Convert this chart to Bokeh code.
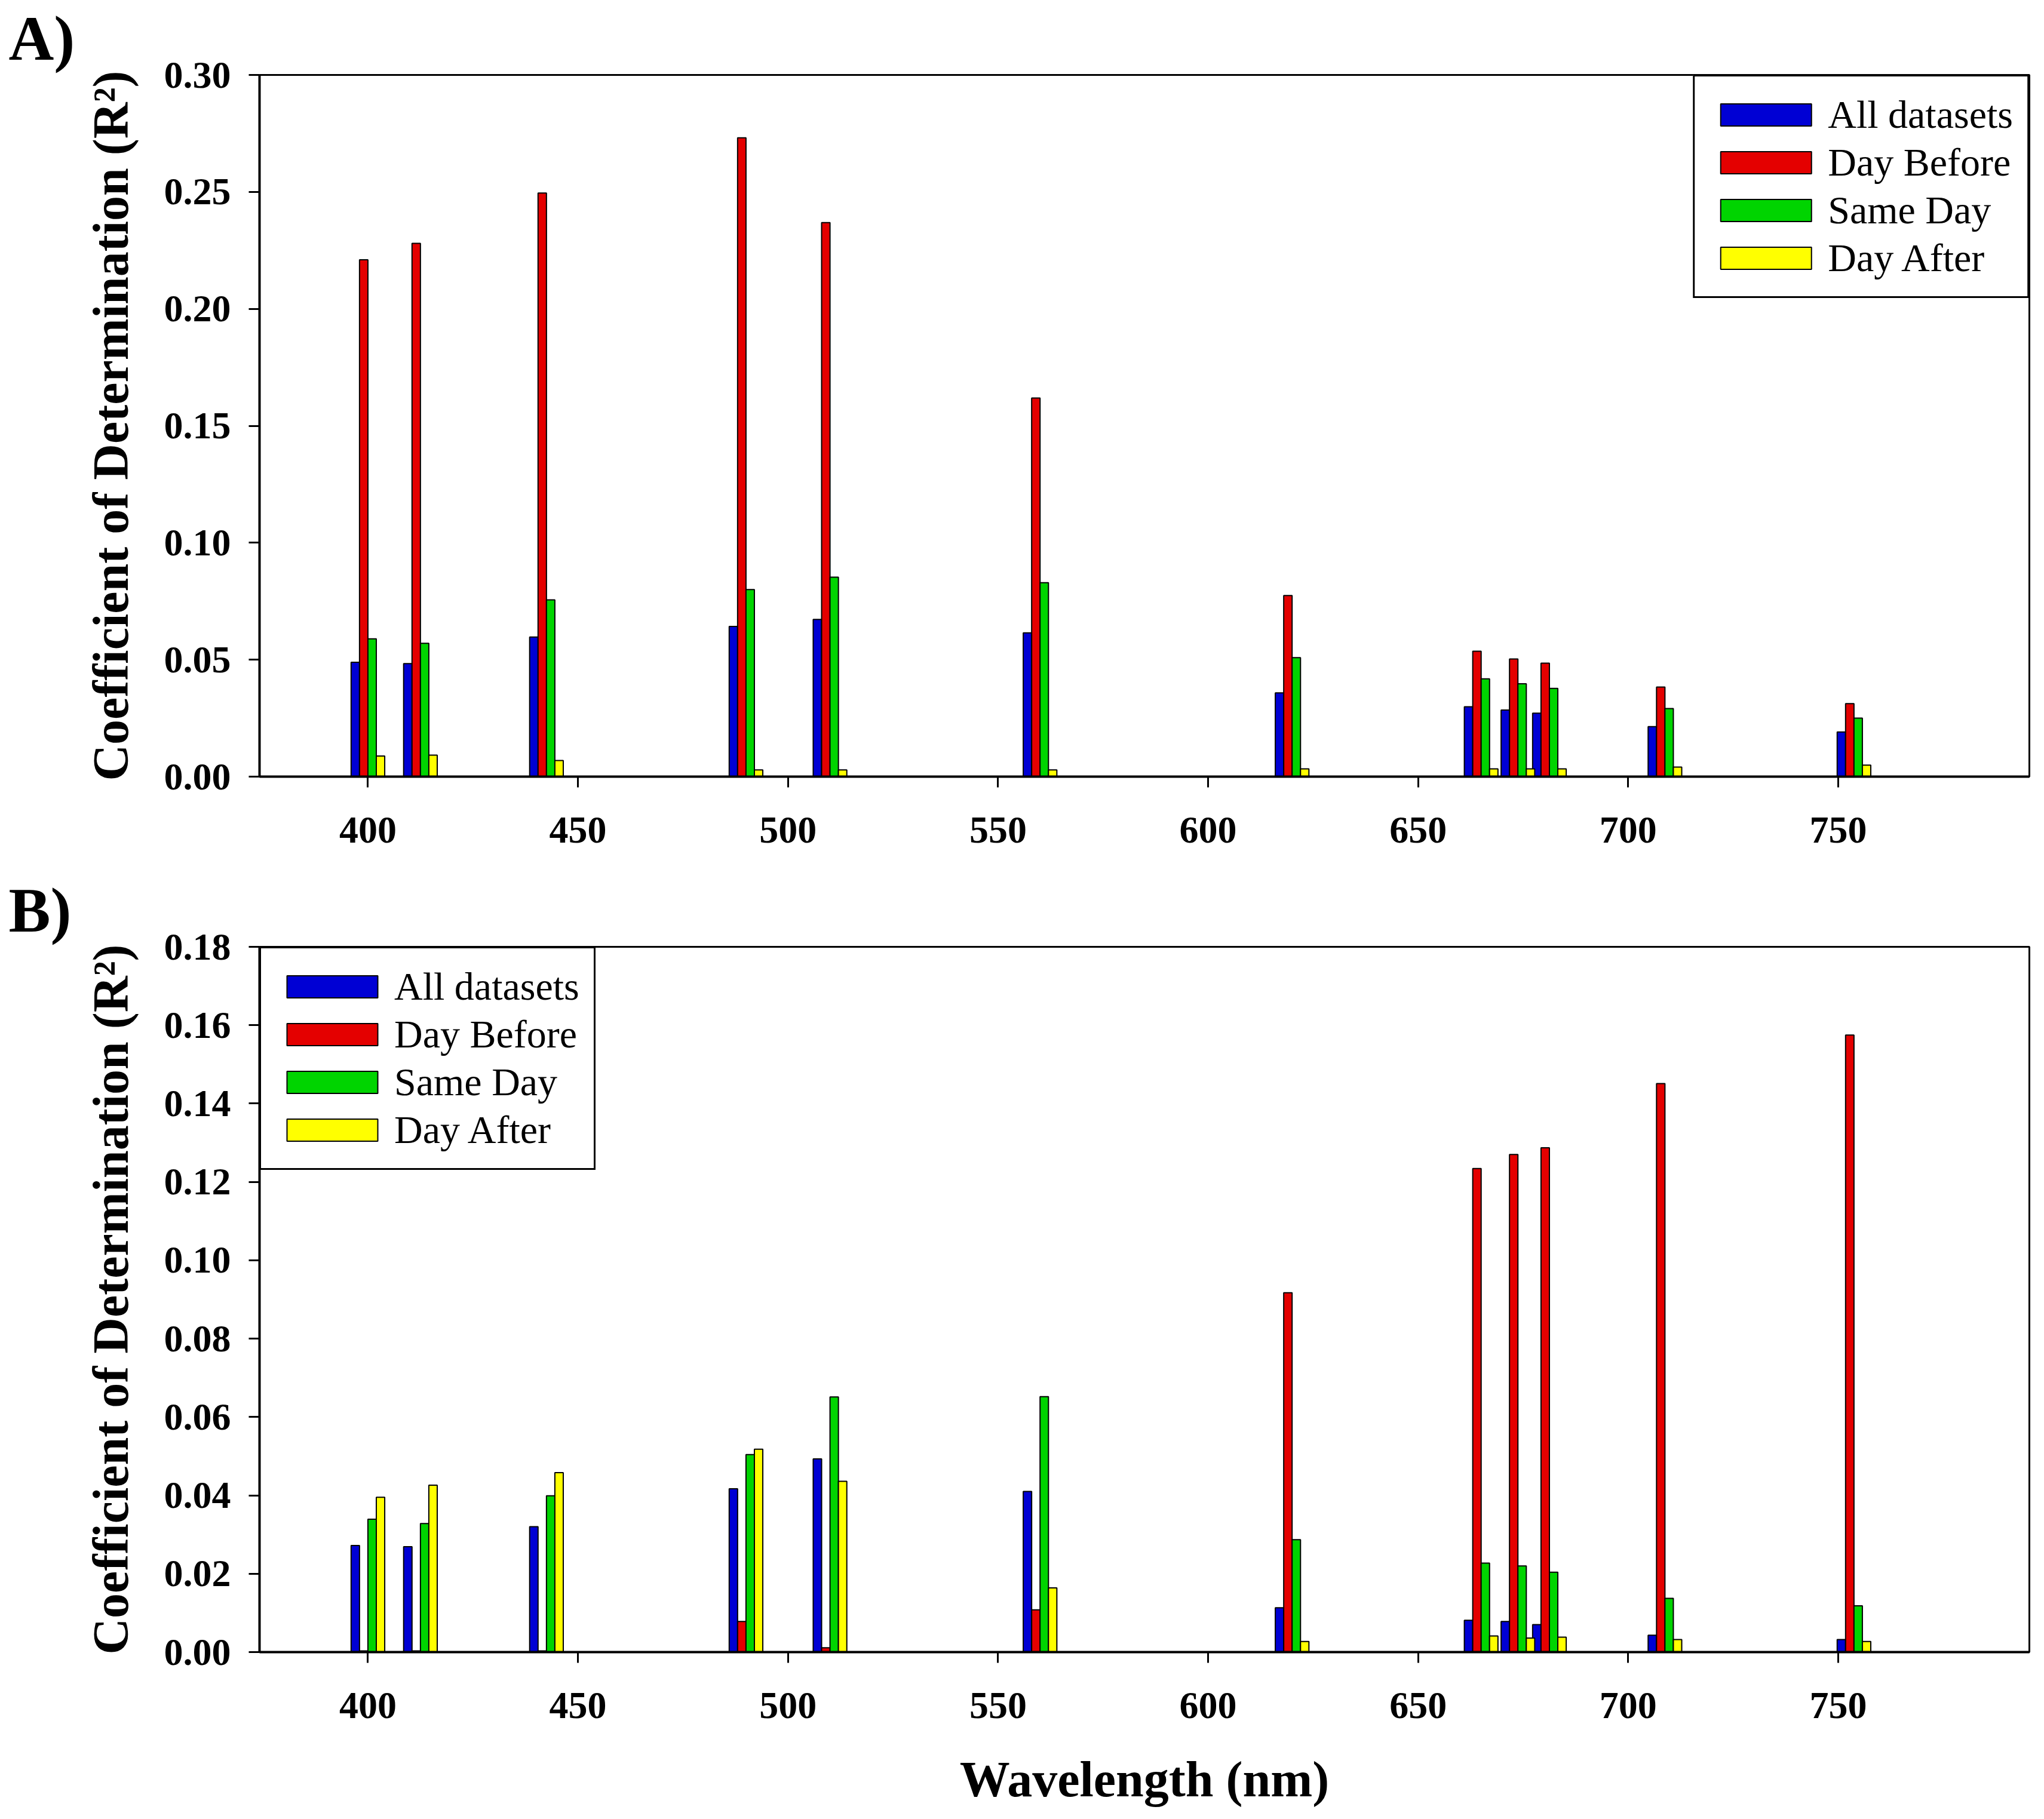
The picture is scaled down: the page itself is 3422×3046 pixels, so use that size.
from bokeh.plotting import figure
from bokeh.models import ColumnDataSource, Range1d, FixedTicker, PrintfTickFormatter, Title, Legend, LegendItem
from bokeh.layouts import column
from bokeh.transform import dodge
from bokeh.embed import file_html
from bokeh.resources import INLINE

# ---------------- data ----------------
wavelengths = [400, 412.5, 442.5, 490, 510, 560, 620, 665, 673.75, 681.25, 708.75, 753.75]
series_names = ["All datasets", "Day Before", "Same Day", "Day After"]

all_A = [0.0489, 0.0483, 0.0597, 0.0642, 0.0672, 0.0615, 0.0358, 0.0299, 0.0285, 0.0271, 0.0214, 0.0191]
before_A = [0.2210, 0.2280, 0.2495, 0.2731, 0.2369, 0.1619, 0.0774, 0.0536, 0.0503, 0.0485, 0.0383, 0.0312]
same_A = [0.0589, 0.0570, 0.0756, 0.0800, 0.0853, 0.0829, 0.0509, 0.0418, 0.0397, 0.0377, 0.0291, 0.0250]
after_A = [0.0088, 0.0092, 0.0069, 0.0029, 0.0029, 0.0029, 0.0033, 0.0033, 0.0033, 0.0033, 0.0041, 0.0049]

all_B = [0.0272, 0.0269, 0.0320, 0.0417, 0.0493, 0.0410, 0.0113, 0.0081, 0.0078, 0.0070, 0.0043, 0.0032]
before_B = [0.0003, 0.0003, 0.0003, 0.0078, 0.0011, 0.0108, 0.0917, 0.1234, 0.1270, 0.1287, 0.1451, 0.1575]
same_B = [0.0339, 0.0328, 0.0399, 0.0504, 0.0651, 0.0652, 0.0287, 0.0227, 0.0220, 0.0204, 0.0137, 0.0118]
after_B = [0.0395, 0.0426, 0.0458, 0.0518, 0.0436, 0.0164, 0.0027, 0.0041, 0.0036, 0.0038, 0.0032, 0.0027]

x_ticks = [400, 450, 500, 550, 600, 650, 700, 750]
y_ticks_A = [0.00, 0.05, 0.10, 0.15, 0.20, 0.25, 0.30]
y_ticks_B = [0.00, 0.02, 0.04, 0.06, 0.08, 0.10, 0.12, 0.14, 0.16, 0.18]

colors = ["#0000d4", "#e40000", "#00d400", "#ffff00"]
offsets = [-3, -1, 1, 3]
BAR_W = 2

SERIF = "Liberation Serif"


def make_panel(series, yticks, ymax, letter, height, top, bottom, legend_loc, xlabel=None):
    src = ColumnDataSource(dict(w=wavelengths, s0=series[0], s1=series[1], s2=series[2], s3=series[3]))
    p = figure(width=3406, height=height, output_backend="svg", toolbar_location=None,
               x_range=Range1d(374.2, 795.5), y_range=Range1d(0, ymax),
               min_border_left=434, min_border_right=9, min_border_top=top, min_border_bottom=bottom)
    p.title = Title(text=letter, align="left", offset=-420, standoff=6,
                    text_font=SERIF, text_font_style="bold", text_font_size="105px",
                    text_color="black", vertical_align="bottom")
    p.background_fill_color = "white"
    p.border_fill_color = "white"
    p.outline_line_color = "black"
    p.outline_line_width = 3
    p.outline_line_alpha = 1.0
    p.xgrid.visible = False
    p.ygrid.visible = False

    items = []
    for i in range(4):
        r = p.vbar(x=dodge("w", offsets[i], range=p.x_range), top="s%d" % i, width=BAR_W, bottom=0,
                   source=src, fill_color=colors[i], line_color="black", line_width=2)
        items.append(LegendItem(label=series_names[i], renderers=[r]))

    leg = Legend(items=items, location=legend_loc, margin=0, padding=24, spacing=0,
                 glyph_width=190, glyph_height=46, label_height=80, label_standoff=9,
                 label_text_font=SERIF, label_text_font_size="66px", label_text_color="black",
                 border_line_color="black", border_line_width=3, border_line_alpha=1.0,
                 background_fill_alpha=1.0)
    p.add_layout(leg)

    for ax in (p.xaxis[0], p.yaxis[0]):
        ax.axis_line_width = 4
        ax.axis_line_color = "black"
        ax.major_tick_line_width = 3
        ax.major_tick_in = 0
        ax.major_tick_out = 18
        ax.minor_tick_line_color = None
        ax.major_label_text_font = SERIF
        ax.major_label_text_font_style = "bold"
        ax.major_label_text_font_size = "64px"
        ax.major_label_text_color = "black"
        ax.axis_label_text_font = SERIF
        ax.axis_label_text_font_style = "bold"
        ax.axis_label_text_font_size = "84px"
        ax.axis_label_text_color = "black"

    p.xaxis.ticker = FixedTicker(ticks=x_ticks)
    p.xaxis.major_label_standoff = 50
    p.yaxis.ticker = FixedTicker(ticks=yticks)
    p.yaxis.formatter = PrintfTickFormatter(format="%.2f")
    p.yaxis.major_label_standoff = 30
    p.yaxis.axis_label = "Coefficient of Determination (R²)"
    p.yaxis.axis_label_standoff = 40
    if xlabel:
        p.xaxis.axis_label = xlabel
        p.xaxis.axis_label_standoff = 53
    return p


pA = make_panel([all_A, before_A, same_A, after_A], y_ticks_A, 0.30, "A)", 1460, 121, 160, "top_right")
pB = make_panel([all_B, before_B, same_B, after_B], y_ticks_B, 0.18, "B)", 1578, 125, 272, "top_left",
                xlabel="Wavelength (nm)")

layout = column(pA, pB, spacing=0)
open("out.html", "w").write(file_html(layout, INLINE))
